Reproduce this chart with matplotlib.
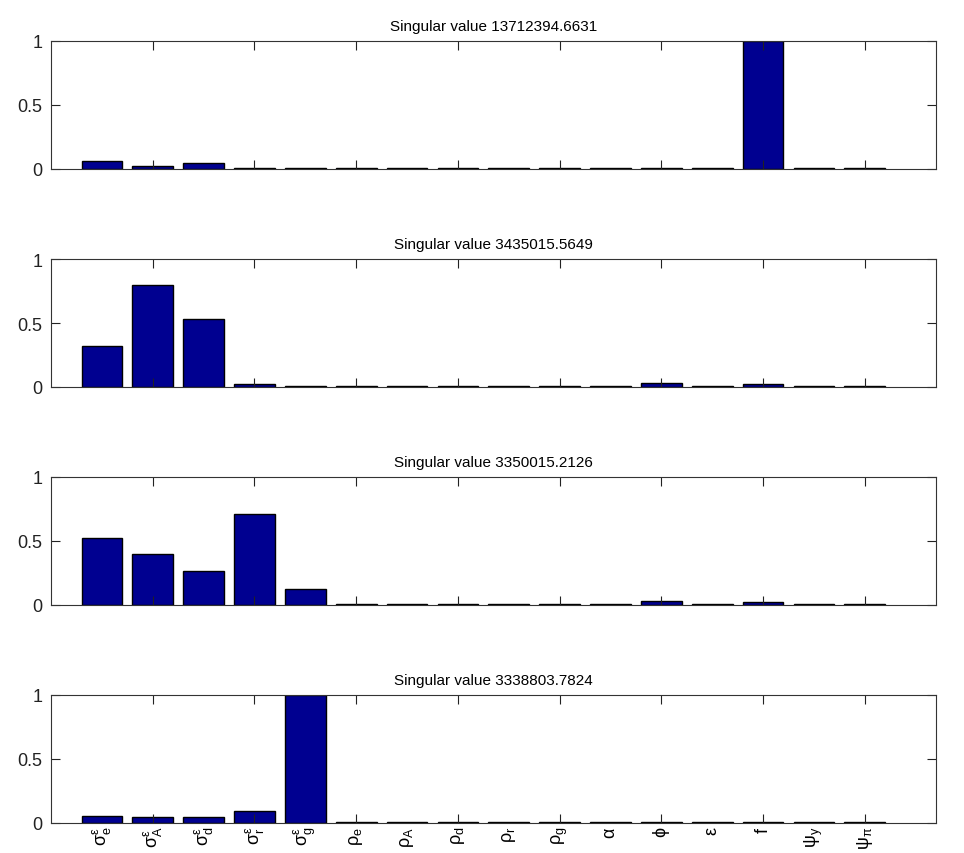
import numpy as np
import matplotlib.pyplot as plt

# parameter names (bottom axis labels)
params = [r'$\sigma^\varepsilon_e$', r'$\sigma^\varepsilon_A$', r'$\sigma^\varepsilon_d$',
          r'$\sigma^\varepsilon_r$', r'$\sigma^\varepsilon_g$',
          r'$\rho_e$', r'$\rho_A$', r'$\rho_d$', r'$\rho_r$', r'$\rho_g$',
          r'$\alpha$', r'$\phi$', r'$\varepsilon$', r'$f$', r'$\psi_y$', r'$\psi_\pi$']

singular_values = ['13712394.6631', '3435015.5649', '3350015.2126', '3338803.7824']

sv1 = [0.065, 0.025, 0.045, 0.006, 0.005, 0.005, 0.005, 0.005,
       0.005, 0.005, 0.005, 0.005, 0.005, 1.0, 0.005, 0.005]
sv2 = [0.32, 0.80, 0.53, 0.02, 0.006, 0.005, 0.005, 0.005,
       0.005, 0.005, 0.005, 0.03, 0.005, 0.02, 0.005, 0.005]
sv3 = [0.52, 0.40, 0.265, 0.71, 0.125, 0.006, 0.005, 0.005,
       0.005, 0.005, 0.005, 0.03, 0.005, 0.02, 0.005, 0.005]
sv4 = [0.055, 0.045, 0.045, 0.09, 1.0, 0.006, 0.005, 0.005,
       0.005, 0.005, 0.005, 0.005, 0.005, 0.005, 0.005, 0.005]
all_sv = [sv1, sv2, sv3, sv4]

plt.rcParams['font.family'] = ['Liberation Sans', 'DejaVu Sans']
plt.rcParams['mathtext.fontset'] = 'dejavusans'
plt.rcParams['mathtext.default'] = 'regular'

fig = plt.figure(figsize=(9.64, 8.54), dpi=100)
W, H = 964.0, 854.0
tops = [42, 260, 478, 696]
x = np.arange(1, len(params) + 1)

for i in range(4):
    top = tops[i]
    ax = fig.add_axes([51 / W, 1 - (top + 128) / H, 885 / W, 128 / H])
    ax.bar(x, all_sv[i], width=0.8, color='#000090', edgecolor='black', linewidth=1)
    ax.set_xlim(0, 17.4)
    ax.set_ylim(0, 1)
    ax.set_yticks([0, 0.5, 1])
    ax.set_yticklabels(['0', '0.5', '1'])
    ax.set_xticks(np.arange(2, 17, 2))
    ax.set_xticklabels([])
    ax.tick_params(which='major', direction='in', length=6.5, width=0.8,
                   top=True, right=True, labelsize=13, pad=6, colors='#222222')
    ax.set_title('Singular value ' + singular_values[i], fontsize=11, pad=8)
    for s in ax.spines.values():
        s.set_color('#333333')
        s.set_linewidth(0.8)
    if i == 3:
        ax.xaxis.remove_overlapping_locs = False
        ax.set_xticks(x, params, minor=True, rotation=90)
        ax.tick_params(which='minor', length=0, labelsize=13, pad=2)

fig.savefig('out.png', dpi=100)
